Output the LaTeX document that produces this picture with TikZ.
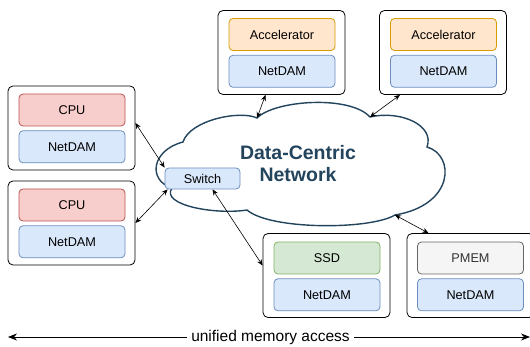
\documentclass[tikz,border=0pt]{standalone}
\usepackage{fontspec}
\setmainfont{Liberation Sans}
\usetikzlibrary{positioning,arrows.meta}

\definecolor{cpufill}{HTML}{F8CECC}
\definecolor{cpuline}{HTML}{B85450}
\definecolor{netfill}{HTML}{DAE8FC}
\definecolor{netline}{HTML}{6C8EBF}
\definecolor{accfill}{HTML}{FFE6CC}
\definecolor{accline}{HTML}{D79B00}
\definecolor{ssdfill}{HTML}{D5E8D4}
\definecolor{ssdline}{HTML}{82B366}
\definecolor{memfill}{HTML}{F5F5F5}
\definecolor{memline}{HTML}{666666}
\definecolor{memtext}{HTML}{333333}
\definecolor{cloudline}{HTML}{23445D}

\tikzset{
	hostbox/.style = {draw = black, fill = white, rounded corners = 5pt,
					  minimum width = 127pt, minimum height = 84pt,
					  line width = 0.8pt},
	part/.style = {rounded corners = 4pt, inner sep = 0pt,
				   minimum width = 106pt, minimum height = 32pt,
				   line width = 0.8pt, font = \fontsize{12.7}{15}\selectfont},
	cpupart/.style = {part, draw = cpuline, fill = cpufill},
	netpart/.style = {part, draw = netline, fill = netfill},
	accpart/.style = {part, draw = accline, fill = accfill},
	ssdpart/.style = {part, draw = ssdline, fill = ssdfill},
	mempart/.style = {part, draw = memline, fill = memfill, text = memtext},
	link/.style = {{Stealth[length=6pt,width=5pt]}-{Stealth[length=6pt,width=5pt]},
				   line width = 0.6pt}
}

\begin{document}
\begin{tikzpicture}[x=1pt, y=-1pt]

	\useasboundingbox (0,0) rectangle (530,347);
	\clip (0,0) rectangle (530,347);

	% the network cloud
	\draw[cloudline, line width = 1.4pt, fill = white]
		(257,118) coordinate (cA)
		.. controls (275,100) and (350,95) .. (370,117) coordinate (cB)
		.. controls (400,110) and (435,125) .. (427,147)
		.. controls (455,155) and (455,205) .. (395,215) coordinate (cC)
		.. controls (370,230) and (270,230) .. (247,210)
		.. controls (215,215) and (160,205) .. (172,188)
		.. controls (147,180) and (152,150) .. (183,142)
		.. controls (190,120) and (240,110) .. (257,118) -- cycle;

	\node[text = cloudline, align = center,
		  font = \bfseries\fontsize{19.5}{21.5}\selectfont]
		  (title) at (298,163.5) {Data-Centric\\Network};

	\draw (202.5,178.5) node[part, draw = netline, fill = netfill,
					 minimum width = 75pt, minimum height = 21pt] (sw) {Switch};

	% CPU hosts
	\draw (71.5,128) node[hostbox] (hostA) {};
	\draw (72,110) node[cpupart] (cpuA) {CPU};
	\node[netpart, below = 4pt of cpuA] (netA) {NetDAM};

	\draw (71.5,223) node[hostbox] (hostB) {};
	\draw (72,205) node[cpupart] (cpuB) {CPU};
	\node[netpart, below = 4pt of cpuB] (netB) {NetDAM};

	% accelerators
	\draw (281.5,52.5) node[hostbox] (accA) {};
	\draw (282,34.5) node[accpart] (accelA) {Accelerator};
	\node[netpart, below = 4pt of accelA] (netC) {NetDAM};

	\draw (443,52.5) node[hostbox] (accB) {};
	\draw (443.5,34.5) node[accpart] (accelB) {Accelerator};
	\node[netpart, below = 4pt of accelB] (netD) {NetDAM};

	% storage
	\draw (326.5,275.5) node[hostbox] (ssdbox) {};
	\draw (327,258) node[ssdpart] (ssd) {SSD};
	\node[netpart, below = 4pt of ssd] (netE) {NetDAM};

	\draw (470.5,275.5) node[hostbox] (pmembox) {};
	\draw (470.5,258) node[mempart] (pmem) {PMEM};
	\node[netpart, below = 4pt of pmem] (netF) {NetDAM};

	% links
	\draw[link] ([yshift=5pt]hostA.east) -- (sw.north west);
	\draw[link] (hostB.east) -- ([xshift=3pt]sw.south west);
	\draw[link] ([xshift=10pt]sw.south) -- ([yshift=10pt]ssdbox.west);
	\draw[link] (cA) -- ([xshift=-16pt]accA.south);
	\draw[link] (cB) -- ([xshift=-43pt]accB.south);
	\draw[link] (cC) -- ([xshift=-42pt]pmembox.north);

	% memory access span
	\coordinate (memL) at (8,337);
	\coordinate (memR) at (530,337);
	\draw[{Stealth[length=9pt,width=7pt]}-{Stealth[length=9pt,width=7pt]},
		  line width = 0.8pt] (memL) -- (memR);
	\node[fill = white, inner sep = 4pt,
		  font = \fontsize{15.5}{18}\selectfont] (span) at (270.5,337)
		  {unified memory access};
\end{tikzpicture}
\end{document}
